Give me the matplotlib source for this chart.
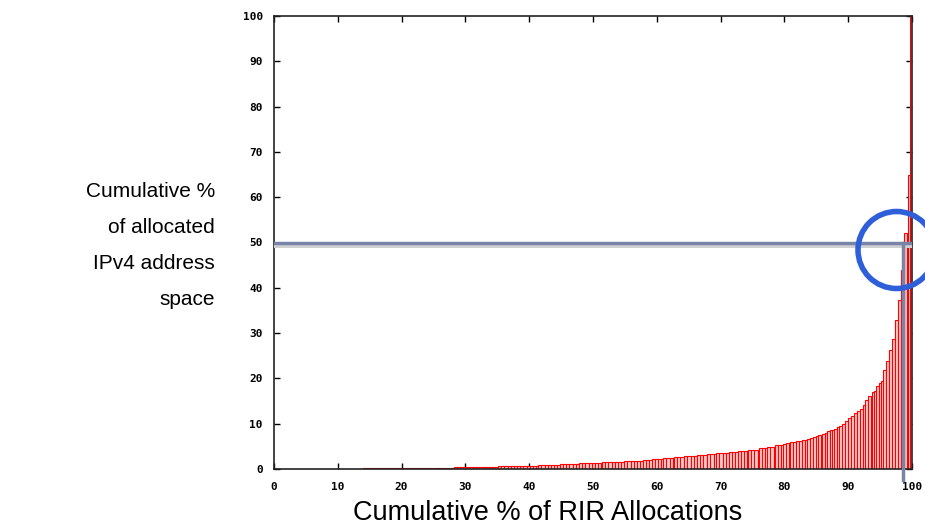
import matplotlib
matplotlib.use('Agg')
import matplotlib.pyplot as plt
from matplotlib.patches import Ellipse

# flat groups of equal-height bars: start %, end %, height %
group_start = [14.0, 28.2, 35.1, 41.4, 44.8, 47.8, 51.4, 54.9, 57.8, 59.2, 61.0, 62.7, 64.3,
               66.3, 67.9, 69.3, 71.3, 72.7, 74.3, 76.0, 77.3, 78.5]
group_end = [28.2, 35.1, 41.4, 44.8, 47.8, 51.4, 54.9, 57.8, 59.2, 61.0, 62.7, 64.3, 66.3,
             67.9, 69.3, 71.3, 72.7, 74.3, 76.0, 77.3, 78.5, 79.8]
group_height = [0.2, 0.4, 0.6, 0.8, 1.0, 1.25, 1.5, 1.75, 2.0, 2.2, 2.4, 2.65, 2.9,
                3.2, 3.4, 3.6, 3.8, 4.05, 4.3, 4.6, 4.9, 5.2]

# single bars near the top end
single_x = [79.8, 80.3, 80.9, 81.3, 81.8, 82.3, 82.8, 83.2, 83.6, 84.0,
            84.5, 84.9, 85.3, 85.9, 86.3, 86.7, 87.1, 87.5, 87.8, 88.2,
            88.6, 89.0, 89.5, 90.0, 90.4, 90.9, 91.4, 91.8, 92.3, 92.6,
            93.1, 93.7, 94.1, 94.4, 94.8, 95.2, 95.5, 95.9, 96.4, 96.9,
            97.3, 97.8, 98.3, 98.8, 99.3, 99.7]
single_h = [5.6, 5.7, 5.9, 6.0, 6.1, 6.2, 6.3, 6.5, 6.6, 6.9,
            7.1, 7.2, 7.4, 7.7, 7.9, 8.3, 8.5, 8.6, 8.8, 9.2,
            9.4, 10.0, 10.7, 11.2, 11.7, 12.3, 12.7, 13.2, 14.1, 15.3,
            16.2, 17.0, 17.3, 18.4, 19.0, 19.5, 21.8, 23.8, 26.2, 28.7,
            33.0, 37.4, 44.0, 52.0, 64.8, 100.0]

x_ticks = [0, 10, 20, 30, 40, 50, 60, 70, 80, 90, 100]
y_ticks = [0, 10, 20, 30, 40, 50, 60, 70, 80, 90, 100]

mark_y = 49.8
mark_x = 98.6

bar_w = 0.5
single_w = 0.45

fig = plt.figure(figsize=(9.25, 5.3), dpi=100)
ax = fig.add_axes([274 / 925, 1 - 469 / 530, 638 / 925, 453 / 530])

# expand the flat groups into narrow bars
xs, hs = [], []
for s, e, h in zip(group_start, group_end, group_height):
    x = s
    while x < e - 1e-6:
        xs.append(x)
        hs.append(h)
        x += bar_w

ax.bar(xs, hs, width=bar_w, align='edge', facecolor='#ffcccc', edgecolor='#ff0000',
       linewidth=0.8, zorder=2)
ax.bar(single_x, single_h, width=single_w, align='edge', facecolor='#ffcccc',
       edgecolor='#ff0000', linewidth=0.8, zorder=2)

ax.set_xlim(0, 100)
ax.set_ylim(0, 100)
ax.set_xticks(x_ticks)
ax.set_yticks(y_ticks)
ax.tick_params(direction='in', length=4, width=1, top=True, right=True,
               labelsize=8, colors='black')
ax.tick_params(axis='y', pad=8)
ax.tick_params(axis='x', pad=9)
for lab in ax.get_xticklabels() + ax.get_yticklabels():
    lab.set_fontfamily('DejaVu Sans Mono')
    lab.set_fontweight('bold')
for sp in ax.spines.values():
    sp.set_linewidth(1.2)
    sp.set_color('#222222')

# highlight lines
ax.axhline(mark_y, color='#7a84a6', linewidth=2.5, zorder=4)
ax.axhspan(mark_y - 1.0, mark_y - 0.4, color='#d0d0d0', zorder=3, linewidth=0)
ax.plot([mark_x, mark_x], [mark_y, -2.5], color='#7a84a6', linewidth=2.5, zorder=4,
        clip_on=False)

# circle around the crossing point
circ = Ellipse((896.5 / 925, 1 - 250 / 530), 77 / 925, 77 / 530, transform=fig.transFigure,
               fill=False, edgecolor='#2f5fd8', linewidth=4, zorder=6)
fig.patches.append(circ)

fig.text(215 / 925, 1 - 245.5 / 530, 'Cumulative %\nof allocated\nIPv4 address\nspace',
         ha='right', va='center', fontsize=15, family='Liberation Sans', linespacing=2.15)
fig.text(548 / 925, 1 - 513 / 530, 'Cumulative % of RIR Allocations',
         ha='center', va='center', fontsize=19.5, family='Liberation Sans')

fig.savefig('out.png', dpi=100)
